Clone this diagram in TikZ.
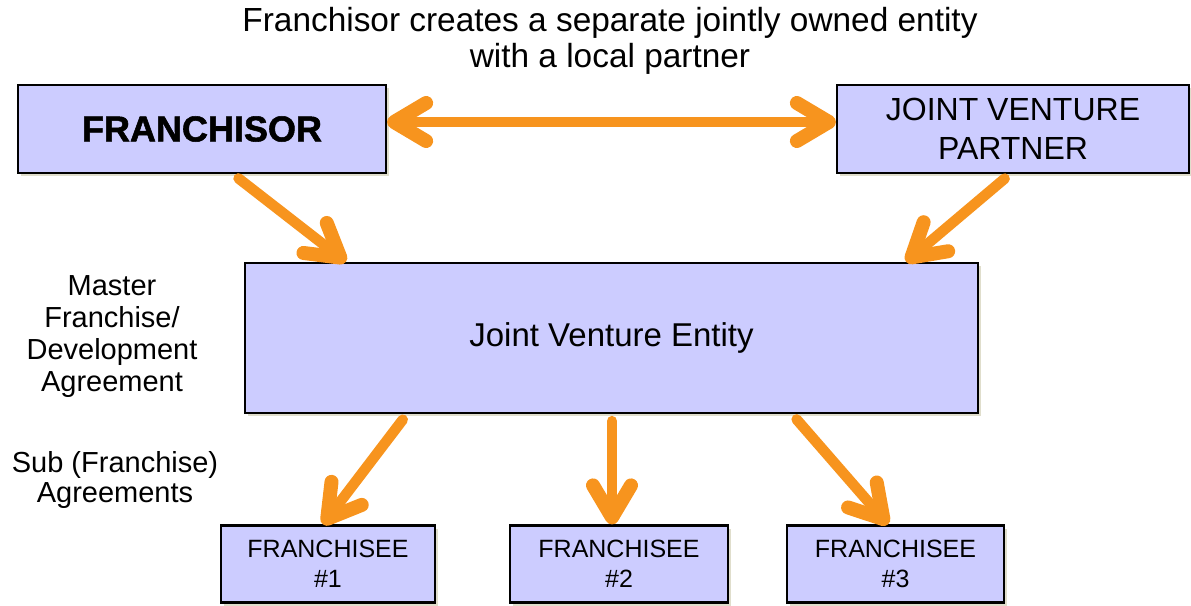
\documentclass[tikz,border=0pt]{standalone}
\usepackage{fontspec}
\setmainfont{Liberation Sans}
\newfontfamily\blackfont{Liberation Sans Bold}[FakeBold=1.5]
\usetikzlibrary{arrows.meta,shadows}
\definecolor{boxfill}{RGB}{204,204,255}
\definecolor{arrowc}{RGB}{247,148,30}
\definecolor{shadowc}{RGB}{224,222,204}
\tikzset{barb/.tip={Straight Barb[length=32pt,width=38pt,line width=14pt,line cap=round,line join=round]}}
\begin{document}
\begin{tikzpicture}[x=1pt,y=-1pt,
        box/.style={draw,line width=2.2pt,fill=boxfill,inner sep=0pt,align=center,
            drop shadow={shadow xshift=3pt,shadow yshift=-3pt,fill=shadowc,opacity=1}},
        link/.style={draw=arrowc,line width=10.5pt,line cap=round,shorten <=7pt,-barb},
        note/.style={align=center,inner sep=0pt}]
        \useasboundingbox(0,0)rectangle(1191,605);
        \node(title)at(610,41)[note,font=\fontsize{33.4}{36}\selectfont]{Franchisor creates a separate jointly owned entity\\with a local partner};
        \node(fr)at(202,129)[box,minimum width=368,minimum height=88,font=\fontsize{36}{40}\blackfont]{FRANCHISOR};
        \node(jvp)at(1013,129)[box,minimum width=352,minimum height=88,font=\fontsize{32}{39}\selectfont]{JOINT VENTURE\\PARTNER};
        \node(jve)at(611.5,338)[box,minimum width=733,minimum height=150,font=\fontsize{33}{36}\selectfont]{Joint Venture Entity};
        \node(f1)at(328,564)[box,minimum width=214,minimum height=77,font=\fontsize{25}{30}\selectfont]{FRANCHISEE\\\#1};
        \node(f2)at(619,564)[box,minimum width=218,minimum height=77,font=\fontsize{25}{30}\selectfont]{FRANCHISEE\\\#2};
        \node(f3)at(895.5,564)[box,minimum width=217,minimum height=77,font=\fontsize{25}{30}\selectfont]{FRANCHISEE\\\#3};
        \node(master)at(112,337)[note,font=\fontsize{29}{32}\selectfont]{Master\\Franchise/\\Development\\Agreement};
        \node(sub)at(115,480)[note,font=\fontsize{29}{30}\selectfont]{Sub (Franchise)\\Agreements};
        \draw[link,barb-barb,shorten <=0pt]([yshift=7]fr.east)--([yshift=7]jvp.west);
        \draw[link]([xshift=31]fr.south)--([xshift=102]jve.north west);
        \draw[link]([xshift=-3]jvp.south)--([xshift=-73]jve.north east);
        \draw[link]([xshift=-204.5]jve.south)--([xshift=-5]f1.north);
        \draw[link]([xshift=0.5]jve.south)--([xshift=-7]f2.north);
        \draw[link]([xshift=180.5]jve.south)--([xshift=-7.5]f3.north);
    \end{tikzpicture}
\end{document}
